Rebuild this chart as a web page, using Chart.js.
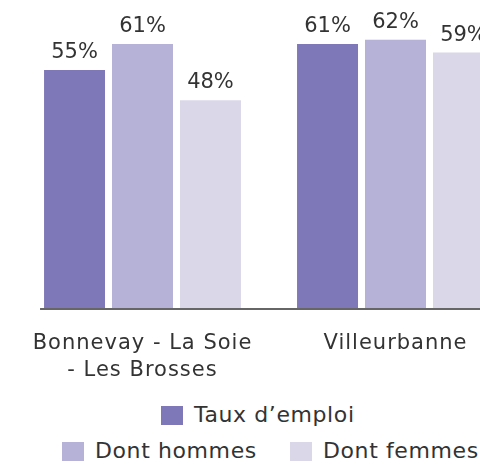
<!DOCTYPE html>
<html>
<head>
<meta charset="utf-8">
<script src="https://cdn.jsdelivr.net/npm/chart.js@4"></script>
<style>
  html, body { margin: 0; padding: 0; background: #fff; }
  body { width: 480px; height: 464px; overflow: hidden; position: relative; font-family: "DejaVu Sans", sans-serif; }
  #wrap { position: absolute; left: 0; top: 0; width: 540px; height: 390px; }
  .lg { position: absolute; font-size: 22px; letter-spacing: 0.6px; color: #333; line-height: 20px; white-space: nowrap; }
  .lg i { position: absolute; left: 0; top: 0; width: 22px; height: 19px; }
  .lg span { position: absolute; left: 33px; top: -1px; }
</style>
</head>
<body>
<div id="wrap"><canvas id="myChart"></canvas></div>
<div id="legend"></div>
<script>
const categories = [["Bonnevay - La Soie", "- Les Brosses"], "Villeurbanne"];
const seriesNames = ["Taux d\u2019emploi", "Dont hommes", "Dont femmes"];
const tauxEmploi = [55, 61];
const dontHommes = [61, 62];
const dontFemmes = [48, 59];
const colors = ["#7e78b8", "#b5b1d7", "#dad8e8"];

const textColor = "#333";
const fontFamily = "'DejaVu Sans', sans-serif";

// un peu d'espacement entre les lettres, la police d'origine est plus large
const spacing = {
  id: "spacing",
  beforeLayout(chart) { chart.ctx.letterSpacing = "1px"; },
  beforeDraw(chart) { chart.ctx.letterSpacing = "1px"; }
};

// labels au-dessus des barres
const valueLabels = {
  id: "valueLabels",
  afterDatasetsDraw(chart) {
    const ctx = chart.ctx;
    ctx.save();
    ctx.letterSpacing = "0px";
    ctx.font = "21px " + fontFamily;
    ctx.fillStyle = textColor;
    ctx.textAlign = "center";
    ctx.textBaseline = "bottom";
    chart.data.datasets.forEach((ds, i) => {
      chart.getDatasetMeta(i).data.forEach((bar, j) => {
        ctx.fillText(ds.data[j] + "%", bar.x, bar.y - 7);
      });
    });
    ctx.restore();
  }
};

// ligne de base qui commence juste avant la premiere barre
const baseLine = {
  id: "baseLine",
  afterDatasetsDraw(chart) {
    const ctx = chart.ctx;
    const first = chart.getDatasetMeta(0).data[0];
    const y = chart.scales.y.getPixelForValue(0) + 1;
    ctx.save();
    ctx.strokeStyle = "#666";
    ctx.lineWidth = 2;
    ctx.beginPath();
    ctx.moveTo(first.x - first.width / 2 - 4, y);
    ctx.lineTo(chart.width, y);
    ctx.stroke();
    ctx.restore();
  }
};

const datasets = [tauxEmploi, dontHommes, dontFemmes].map((d, i) => ({
  label: seriesNames[i],
  data: d,
  backgroundColor: colors[i],
  categoryPercentage: 0.806,
  barPercentage: 0.897
}));

new Chart(document.getElementById("myChart"), {
  type: "bar",
  data: { labels: categories, datasets: datasets },
  options: {
    responsive: true,
    maintainAspectRatio: false,
    animation: false,
    layout: { padding: { left: 16, right: 18, top: 5, bottom: 0 } },
    plugins: { legend: { display: false }, tooltip: { enabled: false } },
    scales: {
      x: {
        grid: { display: false },
        border: { display: false },
        ticks: { color: textColor, font: { family: fontFamily, size: 21, lineHeight: 1.3 }, padding: 14, maxRotation: 0 },
        afterFit(scale) { scale.height = 82; }
      },
      y: { display: false, min: 0, max: 70 }
    }
  },
  plugins: [spacing, valueLabels, baseLine]
});

// legende en html
const legendPos = [[161, 406], [62, 442], [290, 442]];
const legend = document.getElementById("legend");
seriesNames.forEach((name, i) => {
  const item = document.createElement("div");
  item.className = "lg";
  item.style.left = legendPos[i][0] + "px";
  item.style.top = legendPos[i][1] + "px";
  item.innerHTML = '<i style="background:' + colors[i] + '"></i><span></span>';
  item.querySelector("span").textContent = name;
  legend.appendChild(item);
});
</script>
</body>
</html>
